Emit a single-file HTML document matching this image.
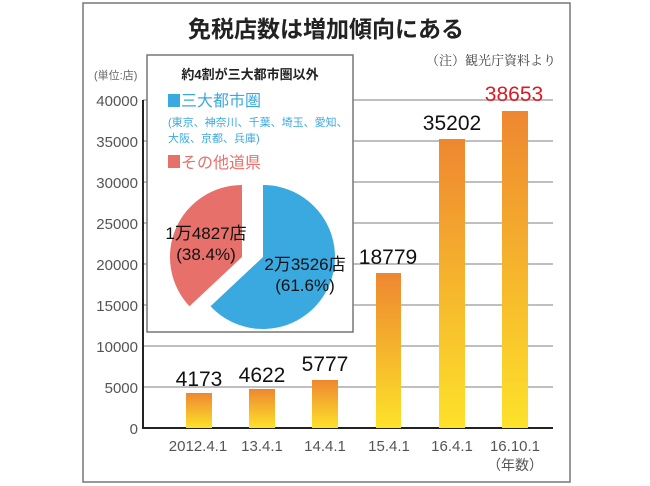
<!DOCTYPE html>
<html><head><meta charset="utf-8"><style>
body{margin:0;background:#fff;}
svg{display:block;font-family:"Liberation Sans","Noto Sans CJK JP",sans-serif;}
</style></head><body>
<svg width="650" height="486" viewBox="0 0 650 486">
<defs>
<linearGradient id="g" x1="0" y1="0" x2="0" y2="1">
<stop offset="0" stop-color="#ee8730"/><stop offset="1" stop-color="#fde22a"/>
</linearGradient>
</defs>
<rect x="83" y="3" width="487" height="479" fill="#fff" stroke="#777" stroke-width="1.5"/>
<text x="326" y="37" font-size="23" text-anchor="middle" font-weight="bold" fill="#222">免税店数は増加傾向にある</text>
<text x="556" y="65" font-size="13" text-anchor="end" fill="#444" font-family="Liberation Serif,'Noto Serif CJK SC',serif">（注）観光庁資料より</text>
<text x="94" y="79" font-size="11" fill="#666">(単位:店)</text>
<g stroke="#aaa" stroke-width="1.5">
<line x1="143" y1="100" x2="553" y2="100"/><line x1="143" y1="141" x2="553" y2="141"/>
<line x1="143" y1="182" x2="553" y2="182"/><line x1="143" y1="223" x2="553" y2="223"/>
<line x1="143" y1="264" x2="553" y2="264"/><line x1="143" y1="305" x2="553" y2="305"/>
<line x1="143" y1="346" x2="553" y2="346"/><line x1="143" y1="387" x2="553" y2="387"/>
</g>
<g font-size="15" fill="#555" text-anchor="end">
<text x="138" y="106">40000</text><text x="138" y="147">35000</text><text x="138" y="188">30000</text>
<text x="138" y="229">25000</text><text x="138" y="270">20000</text><text x="138" y="311">15000</text>
<text x="138" y="352">10000</text><text x="138" y="393">5000</text><text x="138" y="434">0</text>
</g>
<line x1="143" y1="100" x2="143" y2="428" stroke="#222" stroke-width="2"/>
<line x1="142" y1="428" x2="553" y2="428" stroke="#222" stroke-width="2"/>
<g fill="url(#g)">
<rect x="186" y="393" width="26" height="35"/>
<rect x="249" y="389" width="26" height="39"/>
<rect x="312" y="380" width="26" height="48"/>
<rect x="376" y="273" width="25" height="155"/>
<rect x="439" y="139" width="26" height="289"/>
<rect x="502" y="111" width="26" height="317"/>
</g>
<g font-size="21" fill="#111" text-anchor="middle">
<text x="199" y="386">4173</text><text x="262" y="382">4622</text><text x="325" y="371">5777</text>
<text x="388" y="264">18779</text><text x="452" y="130">35202</text>
<text x="514" y="101" fill="#d81c25">38653</text>
</g>
<g font-size="15" fill="#555" text-anchor="middle">
<text x="198" y="451">2012.4.1</text><text x="262" y="451">13.4.1</text><text x="325" y="451">14.4.1</text>
<text x="389" y="451">15.4.1</text><text x="452" y="451">16.4.1</text><text x="515" y="451">16.10.1</text>
<text x="515" y="470" font-size="14">（年数）</text>
</g>
<rect x="147" y="55" width="206" height="277" fill="#fff" stroke="#777" stroke-width="1.5"/>
<text x="250" y="79" font-size="13" font-weight="bold" text-anchor="middle" fill="#222">約4割が三大都市圏以外</text>
<rect x="168" y="94" width="12" height="13" fill="#3aa9e0"/>
<text x="181" y="106" font-size="16" fill="#3aa9e0">三大都市圏</text>
<text x="168" y="126" font-size="11" fill="#3aa9e0">(東京、神奈川、千葉、埼玉、愛知、</text>
<text x="168" y="142" font-size="11" fill="#3aa9e0">大阪、京都、兵庫)</text>
<rect x="168" y="155" width="12" height="13" fill="#e7706b"/>
<text x="181" y="168" font-size="16" fill="#e7706b">その他道県</text>
<path d="M263,257 L263,185 A72,72 0 1 1 210.5,306.3 Z" fill="#3aa9e0"/>
<path d="M242,257 L189.5,306.3 A72,72 0 0 1 242,185 Z" fill="#e7706b"/>
<g font-size="17" fill="#111" text-anchor="middle">
<text x="206" y="239">1万4827店</text><text x="206" y="260">(38.4%)</text>
<text x="305" y="270">2万3526店</text><text x="305" y="291">(61.6%)</text>
</g>
</svg>
</body></html>
